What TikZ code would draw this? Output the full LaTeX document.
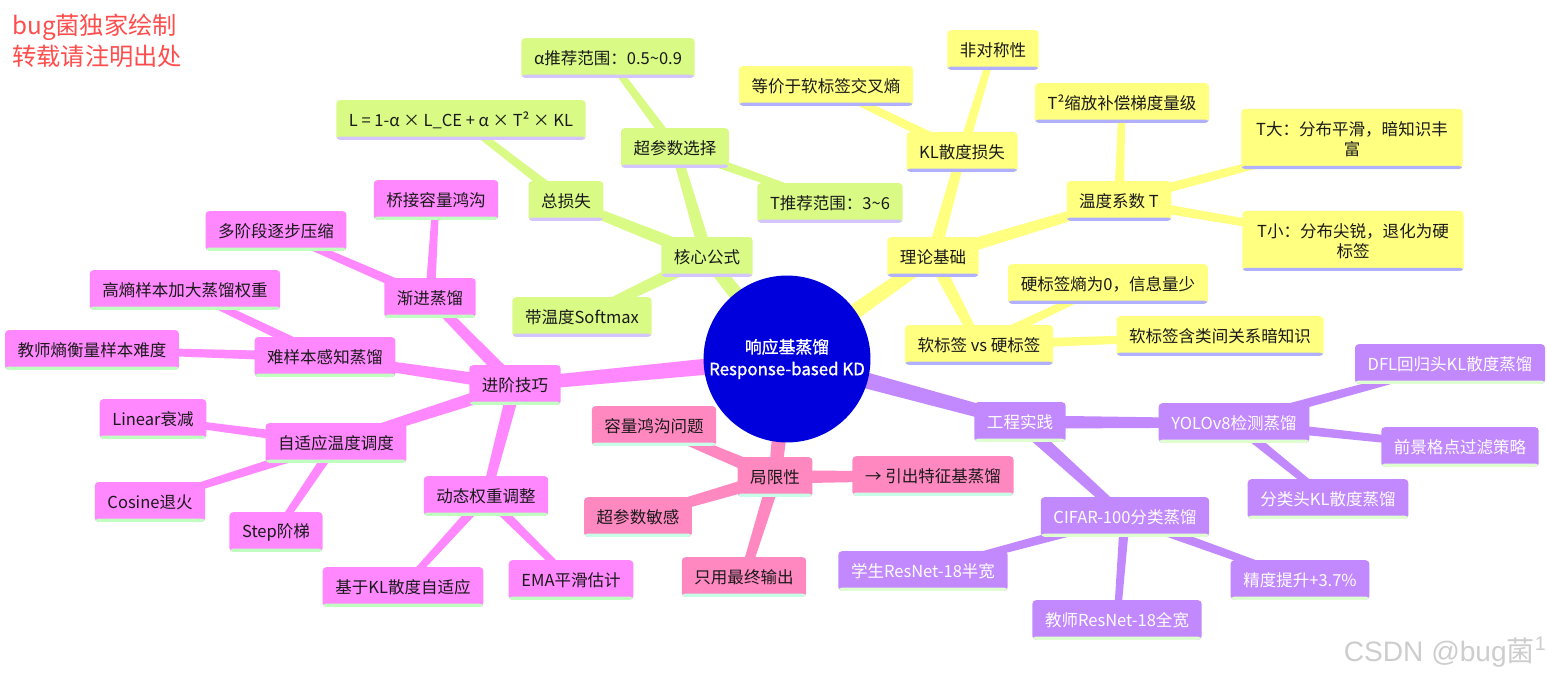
\documentclass[tikz,border=0pt]{standalone}
\usepackage{fontspec}
\setmainfont{Noto Sans CJK SC}
\newfontfamily\wmfont{Liberation Sans}
\newfontfamily\hubfont[FakeBold=1.2]{Noto Sans CJK SC}
\usetikzlibrary{calc,backgrounds}
\definecolor{cgreen}{RGB}{217,251,134}
\definecolor{sgreen}{RGB}{212,196,255}
\definecolor{cyellow}{RGB}{255,255,128}
\definecolor{syellow}{RGB}{176,176,255}
\definecolor{cpurple}{RGB}{194,137,255}
\definecolor{spurple}{RGB}{224,255,208}
\definecolor{cpink}{RGB}{255,136,192}
\definecolor{spink}{RGB}{200,255,232}
\definecolor{cmag}{RGB}{255,136,255}
\definecolor{smag}{RGB}{192,255,192}
\definecolor{cblue}{RGB}{0,0,221}
\definecolor{wmred}{RGB}{255,77,77}
\definecolor{wmgray}{RGB}{205,205,205}
\definecolor{ink}{RGB}{25,25,25}
\newcommand\nf{\fontsize{9.4}{11.5}\selectfont}
\newcommand\br[5]{\fill[#5] ($(#1)!#3!90:(#2)$) -- ($(#2)!#4!-90:(#1)$) -- ($(#2)!#4!90:(#1)$) -- ($(#1)!#3!-90:(#2)$) -- cycle;}
\tikzset{
  stripe/.style={path picture={\fill[#1] (path picture bounding box.south west) rectangle ([yshift=1.8pt]path picture bounding box.south east);}},
  box/.style={rounded corners=2pt, inner xsep=7.2pt, inner ysep=3pt, minimum height=22.5pt, font=\nf, text=ink},
  gbox/.style={box, fill=cgreen, stripe=sgreen},
  ybox/.style={box, fill=cyellow, stripe=syellow},
  pbox/.style={box, fill=cpurple, stripe=spurple, text=white},
  rbox/.style={box, fill=cpink, stripe=spink},
  mbox/.style={box, fill=cmag, stripe=smag},
  twoline/.style={align=center, minimum width=126pt, inner ysep=7pt},
  hub/.style={circle, fill=cblue, minimum size=95pt, inner sep=0pt, text=white, align=center, font=\fontsize{9.6}{12.5}\selectfont\hubfont},
}
\begin{document}
\begin{tikzpicture}[x=0.02cm,y=-0.02cm]
\useasboundingbox (0,0) rectangle (1547,678);

% watermarks
\node[anchor=north west, align=left, text=wmred, font=\fontsize{13.8}{17.2}\selectfont, inner sep=0pt] (wm1) at (12,14) {bug菌独家绘制\\转载请注明出处};
\node[anchor=south east, text=wmgray, font=\fontsize{16}{18}\selectfont, inner sep=0pt] (wm2) at (1547,668) {{\wmfont CSDN @bug}菌{\wmfont\textsuperscript{1}}};

% hub
\node[hub] (c) at (787,359) {响应基蒸馏\\Response-based KD};

% green
\node[gbox] (core) at (707,257) {核心公式};
\node[gbox] (softmax) at (582,317) {带温度Softmax};
\node[gbox] (total) at (566,201) {总损失};
\node[gbox] (formula) at (461,120) {L = 1-α × L\_CE + α × T² × KL};
\node[gbox] (hyper) at (675,148) {超参数选择};
\node[gbox] (alpha) at (608,58) {α推荐范围：0.5\textasciitilde 0.9};
\node[gbox] (trange) at (830,203) {T推荐范围：3\textasciitilde 6};

% yellow
\node[ybox] (theory) at (933,257) {理论基础};
\node[ybox] (kl) at (962,152) {KL散度损失};
\node[ybox] (equiv) at (826,86) {等价于软标签交叉熵};
\node[ybox] (asym) at (993,50) {非对称性};
\node[ybox] (temp) at (1119,201) {温度系数 T};
\node[ybox] (t2) at (1122,103) {T²缩放补偿梯度量级};
\node[ybox, twoline] (tbig) at (1352,139) {T大：分布平滑，暗知识丰\\富};
\node[ybox, twoline] (tsmall) at (1353,241) {T小：分布尖锐，退化为硬\\标签};
\node[ybox] (svh) at (979,345) {软标签 vs 硬标签};
\node[ybox] (hard0) at (1108,284) {硬标签熵为0，信息量少};
\node[ybox] (softdark) at (1220,336) {软标签含类间关系暗知识};

% purple
\node[pbox] (eng) at (1020,422) {工程实践};
\node[pbox] (yolo) at (1234,423) {YOLOv8检测蒸馏};
\node[pbox] (dfl) at (1450,364) {DFL回归头KL散度蒸馏};
\node[pbox] (fg) at (1460,447) {前景格点过滤策略};
\node[pbox] (cls) at (1328,499) {分类头KL散度蒸馏};
\node[pbox] (cifar) at (1125,517) {CIFAR-100分类蒸馏};
\node[pbox] (stu) at (923,571) {学生ResNet-18半宽};
\node[pbox] (tea) at (1117,620) {教师ResNet-18全宽};
\node[pbox] (acc) at (1300,580) {精度提升+3.7\%};

% pink
\node[rbox] (lim) at (775,477) {局限性};
\node[rbox] (cap) at (654,426) {容量鸿沟问题};
\node[rbox] (hps) at (638,517) {超参数敏感};
\node[rbox] (only) at (744,577) {只用最终输出};
\node[rbox] (feat) at (933,476) {→ 引出特征基蒸馏};

% magenta
\node[mbox] (adv) at (515,385) {进阶技巧};
\node[mbox] (prog) at (430,298) {渐进蒸馏};
\node[mbox] (bridge) at (436,200) {桥接容量鸿沟};
\node[mbox] (multi) at (276,231) {多阶段逐步压缩};
\node[mbox] (hard) at (325,357) {难样本感知蒸馏};
\node[mbox] (highent) at (185,290) {高熵样本加大蒸馏权重};
\node[mbox] (teachent) at (92,350) {教师熵衡量样本难度};
\node[mbox] (adapt) at (336,443) {自适应温度调度};
\node[mbox] (linear) at (153,419) {Linear衰减};
\node[mbox] (cosine) at (150,502) {Cosine退火};
\node[mbox] (step) at (276,532) {Step阶梯};
\node[mbox] (dyn) at (486,496) {动态权重调整};
\node[mbox] (kladapt) at (403,587) {基于KL散度自适应};
\node[mbox] (ema) at (571,580) {EMA平滑估计};

\begin{scope}[on background layer]
% level 1
\br{c}{core}{5pt}{3.6pt}{cgreen}
\br{c}{theory}{5pt}{3.6pt}{cyellow}
\br{c}{eng}{5pt}{3.6pt}{cpurple}
\br{c}{lim}{5pt}{3.6pt}{cpink}
\br{c}{adv}{5pt}{3.6pt}{cmag}
% green
\br{core}{softmax}{3.8pt}{2.6pt}{cgreen}
\br{core}{total}{3.8pt}{2.6pt}{cgreen}
\br{core}{hyper}{3.8pt}{2.6pt}{cgreen}
\br{total}{formula}{2.8pt}{1.9pt}{cgreen}
\br{hyper}{alpha}{2.8pt}{1.9pt}{cgreen}
\br{hyper}{trange}{2.8pt}{1.9pt}{cgreen}
% yellow
\br{theory}{kl}{3.8pt}{2.6pt}{cyellow}
\br{theory}{temp}{3.8pt}{2.6pt}{cyellow}
\br{theory}{svh}{3.8pt}{2.6pt}{cyellow}
\br{kl}{equiv}{2.8pt}{1.9pt}{cyellow}
\br{kl}{asym}{2.8pt}{1.9pt}{cyellow}
\br{temp}{t2}{2.8pt}{1.9pt}{cyellow}
\br{temp}{tbig}{2.8pt}{1.9pt}{cyellow}
\br{temp}{tsmall}{2.8pt}{1.9pt}{cyellow}
\br{svh}{hard0}{2.8pt}{1.9pt}{cyellow}
\br{svh}{softdark}{2.8pt}{1.9pt}{cyellow}
% purple
\br{eng}{yolo}{3.8pt}{2.6pt}{cpurple}
\br{eng}{cifar}{3.8pt}{2.6pt}{cpurple}
\br{yolo}{dfl}{2.8pt}{1.9pt}{cpurple}
\br{yolo}{fg}{2.8pt}{1.9pt}{cpurple}
\br{yolo}{cls}{2.8pt}{1.9pt}{cpurple}
\br{cifar}{stu}{2.8pt}{1.9pt}{cpurple}
\br{cifar}{tea}{2.8pt}{1.9pt}{cpurple}
\br{cifar}{acc}{2.8pt}{1.9pt}{cpurple}
% pink
\br{lim}{cap}{3.8pt}{2.6pt}{cpink}
\br{lim}{hps}{3.8pt}{2.6pt}{cpink}
\br{lim}{only}{3.8pt}{2.6pt}{cpink}
\br{lim}{feat}{3.8pt}{2.6pt}{cpink}
% magenta
\br{adv}{prog}{3.8pt}{2.6pt}{cmag}
\br{adv}{hard}{3.8pt}{2.6pt}{cmag}
\br{adv}{adapt}{3.8pt}{2.6pt}{cmag}
\br{adv}{dyn}{3.8pt}{2.6pt}{cmag}
\br{prog}{bridge}{2.8pt}{1.9pt}{cmag}
\br{prog}{multi}{2.8pt}{1.9pt}{cmag}
\br{hard}{highent}{2.8pt}{1.9pt}{cmag}
\br{hard}{teachent}{2.8pt}{1.9pt}{cmag}
\br{adapt}{linear}{2.8pt}{1.9pt}{cmag}
\br{adapt}{cosine}{2.8pt}{1.9pt}{cmag}
\br{adapt}{step}{2.8pt}{1.9pt}{cmag}
\br{dyn}{kladapt}{2.8pt}{1.9pt}{cmag}
\br{dyn}{ema}{2.8pt}{1.9pt}{cmag}
\end{scope}
\end{tikzpicture}
\end{document}
